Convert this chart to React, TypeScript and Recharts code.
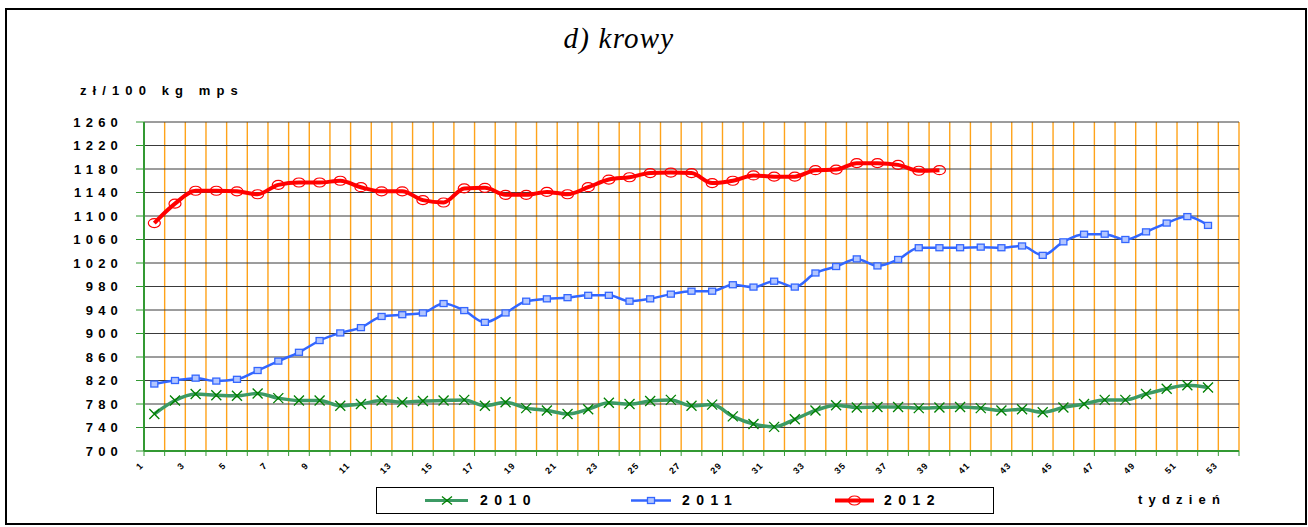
import React from 'react';
import { LineChart, Line, XAxis, YAxis, CartesianGrid } from 'recharts';

// tygodnie (kategorie osi X)
const weeks = [
  1, 2, 3, 4, 5, 6, 7, 8, 9, 10, 11, 12, 13, 14, 15, 16, 17, 18, 19, 20, 21, 22, 23, 24, 25, 26,
  27, 28, 29, 30, 31, 32, 33, 34, 35, 36, 37, 38, 39, 40, 41, 42, 43, 44, 45, 46, 47, 48, 49, 50,
  51, 52, 53,
];
const weekLabels = [1, 3, 5, 7, 9, 11, 13, 15, 17, 19, 21, 23, 25, 27, 29, 31, 33, 35, 37, 39, 41, 43, 45, 47, 49, 51, 53];
const yTicks = [700, 740, 780, 820, 860, 900, 940, 980, 1020, 1060, 1100, 1140, 1180, 1220, 1260];

const prices2010 = [
  763, 786, 797, 795, 794, 798, 790, 786, 786, 777, 780, 786, 783, 785, 786, 787, 777, 783, 773, 769,
  763, 771, 782, 780, 785, 787, 777, 779, 759, 746, 741, 754, 769, 778, 774, 775, 775, 773, 774, 775,
  773, 769, 771, 766, 774, 780, 787, 787, 797, 806, 812, 808,
];
const prices2011 = [
  814, 820, 824, 819, 822, 837, 853, 868, 888, 901, 910, 929, 932, 935, 951, 939, 919, 935, 955, 959,
  961, 965, 965, 955, 959, 967, 972, 972, 983, 979, 989, 979, 1003, 1014, 1027, 1015, 1026, 1046, 1046, 1046,
  1047, 1046, 1049, 1033, 1056, 1069, 1069, 1060, 1073, 1088, 1099, 1084,
];
const prices2012 = [
  1088, 1121, 1143, 1143, 1142, 1137, 1153, 1157, 1157, 1160, 1149, 1142, 1142, 1127, 1123, 1147, 1148, 1136, 1136, 1141,
  1137, 1149, 1162, 1166, 1173, 1174, 1173, 1156, 1160, 1169, 1167, 1167, 1178, 1179, 1190, 1190, 1187, 1177, 1178,
];

const data = weeks.map((w, i) => ({
  week: w,
  y2010: prices2010[i] ?? null,
  y2011: prices2011[i] ?? null,
  y2012: prices2012[i] ?? null,
}));

// granice tygodni - tu idą pionowe linie siatki
const bounds = weeks.map((w) => w - 0.5).concat(weeks[weeks.length - 1] + 0.5);

const AXIS_GREEN = '#339933';
const FONT = 'Arial, "Liberation Sans", sans-serif';

const CrossDot = (p: any) => {
  const { cx, cy, key } = p;
  if (cx == null || cy == null) return <g key={key} />;
  const r = 5;
  return (
    <path
      key={key}
      d={`M${cx - r},${cy - r}L${cx + r},${cy + r}M${cx - r},${cy + r}L${cx + r},${cy - r}`}
      stroke="#008000"
      strokeWidth={1.3}
      fill="none"
    />
  );
};

const SquareDot = (p: any) => {
  const { cx, cy, key } = p;
  if (cx == null || cy == null) return <g key={key} />;
  return <rect key={key} x={cx - 3.5} y={cy - 3} width={7} height={6} fill="#b3c6ff" stroke="#3366ff" strokeWidth={1.3} />;
};

const CircleDot = (p: any) => {
  const { cx, cy, key } = p;
  if (cx == null || cy == null) return <g key={key} />;
  return <ellipse key={key} cx={cx} cy={cy} rx={6} ry={4.5} fill="none" stroke="#ff0000" strokeWidth={1.2} />;
};

const XTick = (p: any) => {
  const { x, y, payload } = p;
  const k = payload.value + 0.5;
  if (!weekLabels.includes(k)) return <g />;
  return (
    <text
      x={x}
      y={y + 8}
      textAnchor="end"
      transform={`rotate(-45, ${x}, ${y + 8})`}
      fontSize={9}
      fontWeight="bold"
      fontFamily={FONT}
      letterSpacing={1}
      fill="#000"
    >
      {k}
    </text>
  );
};

const YTick = (p: any) => {
  const { x, y, payload } = p;
  return (
    <text x={x} y={y} dy={4.6} textAnchor="end" fontSize={13} fontWeight="bold" fontFamily={FONT} letterSpacing={5.2} fill="#000">
      {payload.value}
    </text>
  );
};

const legendText: React.CSSProperties = {
  fontFamily: FONT,
  fontWeight: 'bold',
  fontSize: 14,
  letterSpacing: 6.5,
  position: 'absolute',
  top: 4,
};

const App: React.FC = () => {
  return (
    <div style={{ position: 'absolute', left: 0, top: 0, width: 1308, height: 527, background: '#fff', overflow: 'hidden' }}>
      <div
        style={{
          position: 'absolute',
          left: 5,
          top: 8,
          width: 1302,
          height: 517,
          border: '2px solid #000',
          boxSizing: 'border-box',
        }}
      />
      <div
        style={{
          position: 'absolute',
          left: 0,
          width: 1238,
          top: 22,
          textAlign: 'center',
          fontFamily: '"Liberation Serif", "Times New Roman", serif',
          fontStyle: 'italic',
          fontSize: 29,
          letterSpacing: 1.2,
        }}
      >
        d) krowy
      </div>
      <div
        style={{
          position: 'absolute',
          left: 80,
          top: 83,
          fontFamily: FONT,
          fontWeight: 'bold',
          fontSize: 13,
          letterSpacing: 6.1,
          whiteSpace: 'pre',
        }}
      >
        zł/100 kg mps
      </div>

      <div style={{ position: 'absolute', left: 0, top: 0 }}>
        <LineChart width={1308} height={527} data={data} margin={{ top: 122, right: 69, bottom: 46, left: 0 }}>
          <CartesianGrid horizontal={false} stroke="#ffa31a" strokeWidth={1.4} />
          <CartesianGrid vertical={false} stroke="#3a3a3a" strokeWidth={1} />
          <XAxis
            dataKey="week"
            type="number"
            domain={[0.5, 53.5]}
            ticks={bounds}
            interval={0}
            height={30}
            axisLine={{ stroke: AXIS_GREEN, strokeWidth: 2 }}
            tickLine={{ stroke: AXIS_GREEN }}
            tickSize={5}
            tick={<XTick />}
          />
          <YAxis
            type="number"
            domain={[700, 1260]}
            ticks={yTicks}
            interval={0}
            width={144}
            axisLine={{ stroke: AXIS_GREEN, strokeWidth: 2 }}
            tickLine={{ stroke: AXIS_GREEN }}
            tickSize={8}
            tickMargin={13}
            tick={<YTick />}
          />
          <Line
            type="monotone"
            dataKey="y2010"
            stroke="#3c9a64"
            strokeWidth={3.5}
            dot={CrossDot}
            activeDot={false}
            isAnimationActive={false}
          />
          <Line
            type="monotone"
            dataKey="y2011"
            stroke="#3366ff"
            strokeWidth={2.5}
            dot={SquareDot}
            activeDot={false}
            isAnimationActive={false}
          />
          <Line
            type="monotone"
            dataKey="y2012"
            stroke="#ff0000"
            strokeWidth={4}
            dot={CircleDot}
            activeDot={false}
            isAnimationActive={false}
          />
        </LineChart>
      </div>

      {/* legenda */}
      <div
        style={{
          position: 'absolute',
          left: 376,
          top: 487,
          width: 618,
          height: 27,
          border: '1px solid #000',
          boxSizing: 'border-box',
          background: '#fff',
        }}
      >
        <svg style={{ position: 'absolute', left: 0, top: 0 }} width={616} height={25}>
          <line x1={48} x2={91} y1={12.5} y2={12.5} stroke="#3c9a64" strokeWidth={3} />
          <path d="M65,8.5L75,16.5M65,16.5L75,8.5" stroke="#008000" strokeWidth={1.3} />
          <line x1={254} x2={294} y1={12.5} y2={12.5} stroke="#3366ff" strokeWidth={2.5} />
          <rect x={270.5} y={9.5} width={7} height={6} fill="#b3c6ff" stroke="#3366ff" strokeWidth={1.3} />
          <line x1={458} x2={497} y1={12.5} y2={12.5} stroke="#ff0000" strokeWidth={4} />
          <ellipse cx={477.5} cy={12.5} rx={6} ry={4.5} fill="none" stroke="#ff0000" strokeWidth={1.2} />
        </svg>
        <span style={{ ...legendText, left: 103 }}>2010</span>
        <span style={{ ...legendText, left: 305 }}>2011</span>
        <span style={{ ...legendText, left: 507 }}>2012</span>
      </div>

      <div
        style={{
          position: 'absolute',
          left: 1138,
          top: 492,
          fontFamily: FONT,
          fontWeight: 'bold',
          fontSize: 13,
          letterSpacing: 6.2,
        }}
      >
        tydzień
      </div>
    </div>
  );
};

export default App;
